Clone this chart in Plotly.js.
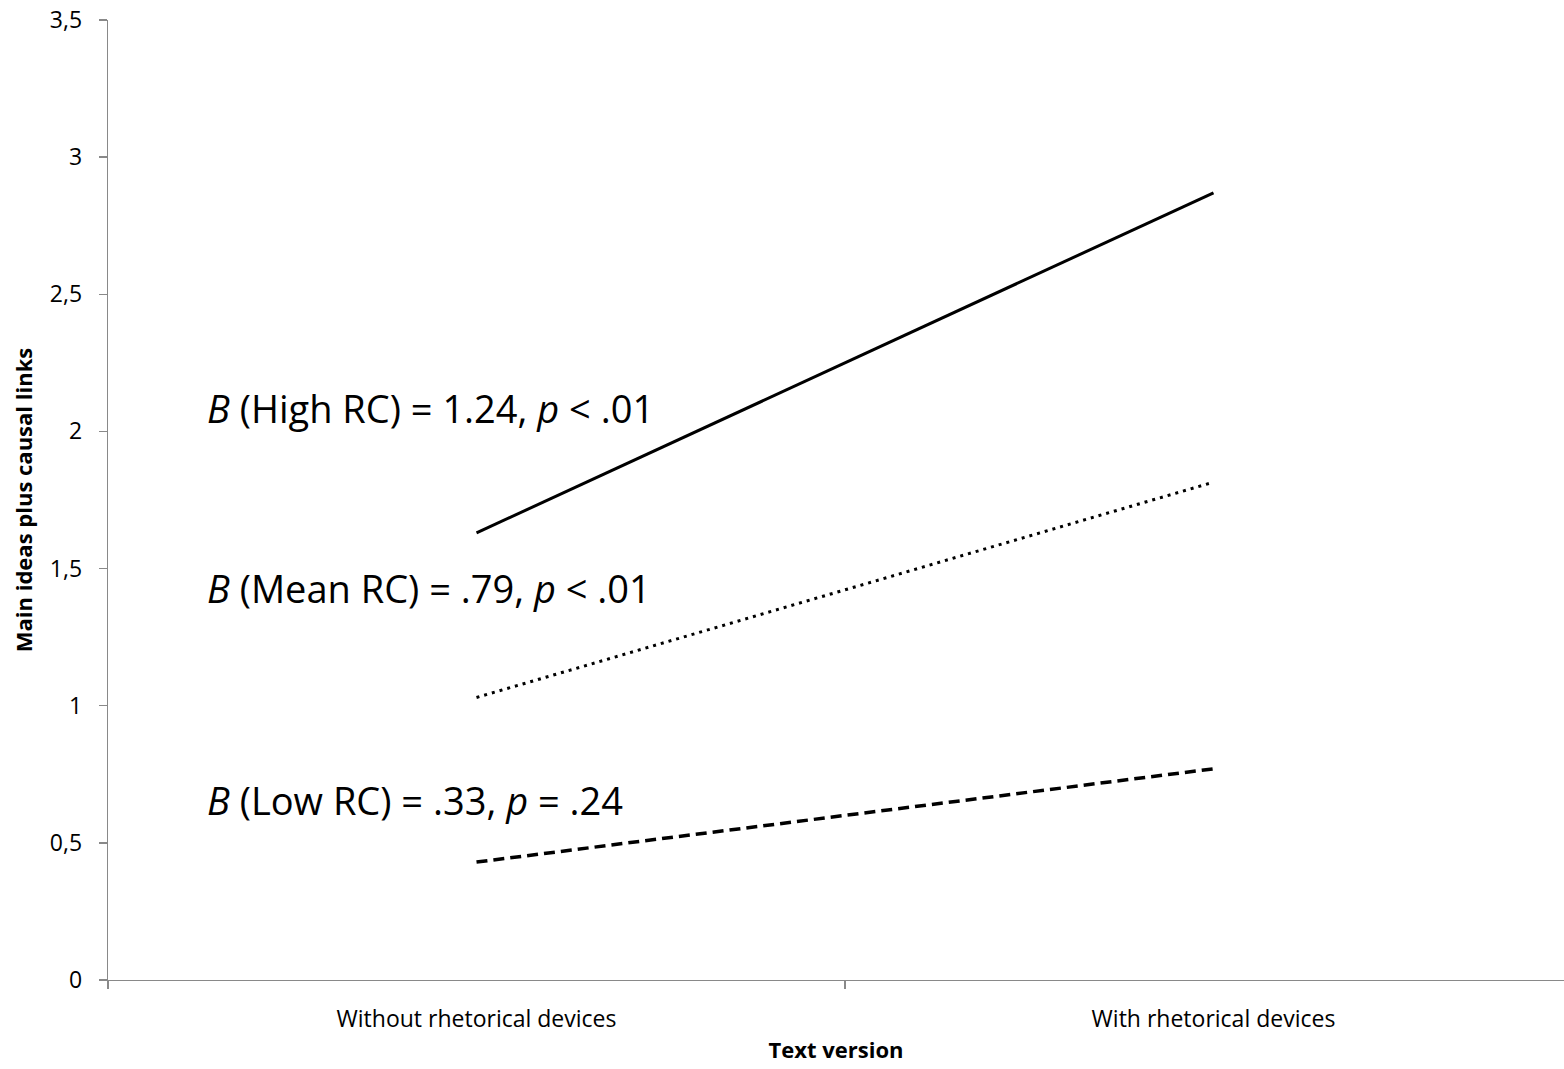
<!DOCTYPE html>
<html>
<head>
<meta charset="utf-8">
<script src="https://cdn.plot.ly/plotly-3.0.1.min.js"></script>
<style>html,body{margin:0;padding:0;background:#fff;}#chart{width:1564px;height:1069px;}</style>
</head>
<body>
<div id="chart"></div>
<script>
const categories = ["Without rhetorical devices", "With rhetorical devices"];
const highRC = [1.63, 2.87];
const meanRC = [1.03, 1.815];
const lowRC = [0.43, 0.77];
const yTicks = [0, 0.5, 1, 1.5, 2, 2.5, 3, 3.5];
const labelTexts = [
  "<i>B</i> (High RC) = 1.24, <i>p</i> < .01",
  "<i>B</i> (Mean RC) = .79, <i>p</i> < .01",
  "<i>B</i> (Low RC) = .33, <i>p</i> = .24"
];
const labelY = [2.085, 1.43, 0.655];

const font = "Open Sans, Noto Sans, sans-serif";
const traces = [
  {x: categories, y: highRC, mode: "lines", line: {color: "#000", width: 3, dash: "solid"}, name: "High RC"},
  {x: categories, y: meanRC, mode: "lines", line: {color: "#000", width: 3, dash: "3px,5px"}, name: "Mean RC"},
  {x: categories, y: lowRC, mode: "lines", line: {color: "#000", width: 3.5, dash: "11px,6px"}, name: "Low RC"}
];
const annotations = labelTexts.map((t, i) => ({
  x: -0.368, xref: "x", y: labelY[i], yref: "y", text: t, showarrow: false,
  xanchor: "left", yanchor: "middle", font: {family: font, size: 38, color: "#000"}
}));
const layout = {
  width: 1564, height: 1069,
  margin: {l: 108, r: 0, t: 20, b: 89},
  paper_bgcolor: "#fff", plot_bgcolor: "#fff",
  separators: ", ",
  showlegend: false,
  xaxis: {
    type: "category", range: [-0.5, 1.4756], tickson: "boundaries",
    ticks: "outside", ticklen: 8, tickcolor: "#898989", tickwidth: 1.3,
    ticklabelstandoff: 18,
    showline: true, linecolor: "#898989", linewidth: 1.3, showgrid: false, zeroline: false,
    tickfont: {family: font, size: 23, color: "#000"},
    title: {text: "<b>Text version</b>", font: {family: font, size: 22, color: "#000"}, standoff: 9}
  },
  yaxis: {
    range: [0, 3.5], tickvals: yTicks, ticks: "outside", ticklen: 8, tickcolor: "#898989", tickwidth: 1.3,
    ticklabelstandoff: 12,
    showline: true, linecolor: "#898989", linewidth: 1.3, showgrid: false, zeroline: false,
    tickfont: {family: font, size: 23, color: "#000"},
    title: {text: "<b>Main ideas plus causal links</b>", font: {family: font, size: 22, color: "#000"}, standoff: 11}
  },
  annotations: annotations
};
Plotly.newPlot("chart", traces, layout, {displayModeBar: false, staticPlot: true});
</script>
</body>
</html>
